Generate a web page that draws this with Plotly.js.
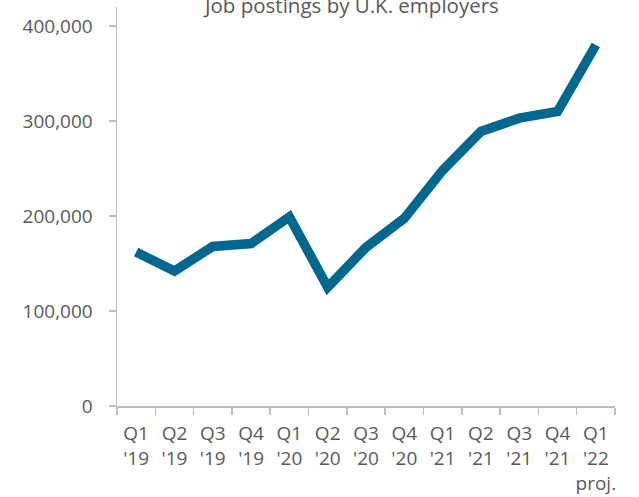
<!DOCTYPE html>
<html>
<head>
<meta charset="utf-8">
<script src="https://cdn.plot.ly/plotly-3.0.1.min.js"></script>
<style>html,body{margin:0;padding:0;background:#fff;}#chart{width:639px;height:497px;}</style>
</head>
<body>
<div id="chart"></div>
<script>
const quarters = ["Q1<br>'19","Q2<br>'19","Q3<br>'19","Q4<br>'19","Q1<br>'20","Q2<br>'20","Q3<br>'20","Q4<br>'20","Q1<br>'21","Q2<br>'21","Q3<br>'21","Q4<br>'21","Q1<br>'22<br>proj."];
const postings = [162000,142000,168000,171000,199000,125000,167000,197500,248000,289000,303000,310000,380000];
const yTicks = [0,100000,200000,300000,400000];
const yTickLabels = ["0","100,000","200,000","300,000","400,000"];
const titleText = "Job postings by U.K. employers";

const grey = "#595959";
const axisGrey = "#BFBFBF";
const fontFam = "'Open Sans', Lato, sans-serif";

Plotly.newPlot("chart", [{
  x: quarters,
  y: postings,
  type: "scatter",
  mode: "lines",
  line: {color: "#00688F", width: 9.5, shape: "linear"},
  hoverinfo: "skip"
}], {
  width: 639,
  height: 497,
  margin: {l: 117, r: 24, t: 7, b: 91, pad: 0},
  paper_bgcolor: "#fff",
  plot_bgcolor: "#fff",
  showlegend: false,
  font: {family: fontFam, color: grey, size: 18},
  xaxis: {
    type: "category",
    range: [-0.5, 12.5],
    showgrid: false,
    zeroline: false,
    showline: true,
    linecolor: axisGrey,
    linewidth: 1.5,
    ticks: "outside",
    tickson: "boundaries",
    ticklen: 7,
    tickcolor: axisGrey,
    tickwidth: 1.5,
    tickangle: 0,
    ticklabelstandoff: 10,
    tickfont: {family: fontFam, color: grey, size: 19},
    fixedrange: true
  },
  yaxis: {
    range: [0, 420000],
    tickvals: yTicks,
    ticktext: yTickLabels,
    showgrid: false,
    zeroline: false,
    showline: true,
    linecolor: axisGrey,
    linewidth: 1.5,
    ticks: "outside",
    ticklen: 7,
    tickcolor: axisGrey,
    tickwidth: 1.5,
    ticklabelstandoff: 12,
    tickfont: {family: fontFam, color: grey, size: 19},
    fixedrange: true
  },
  annotations: [{
    text: titleText,
    xref: "paper", yref: "paper",
    x: (351 - 117) / (639 - 117 - 24),
    y: 1 + 2 / 399,
    xanchor: "center", yanchor: "middle",
    showarrow: false,
    font: {family: fontFam, color: grey, size: 20.5}
  }]
}, {displayModeBar: false, staticPlot: true});
</script>
</body>
</html>
